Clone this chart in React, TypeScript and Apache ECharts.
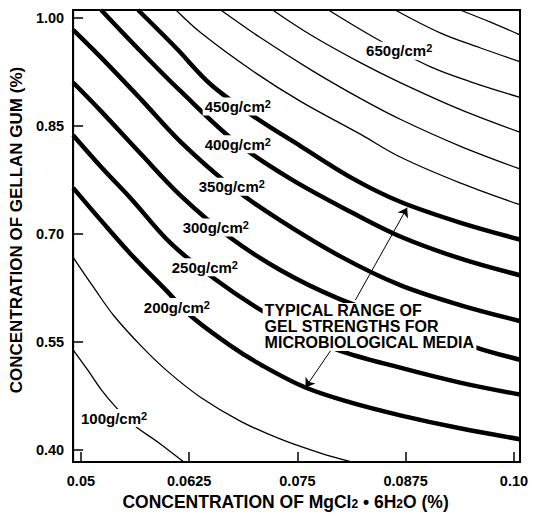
import React, { useEffect, useRef } from "react";
import * as echarts from "echarts";

// Tick values and labels
const X_TICKS = [0.05, 0.0625, 0.075, 0.0875, 0.1];
const X_TICK_LABELS = ["0.05", "0.0625", "0.075", "0.0875", "0.10"];
const Y_TICKS = [0.4, 0.55, 0.7, 0.85, 1.0];
const Y_TICK_LABELS = ["0.40", "0.55", "0.70", "0.85", "1.00"];

// Contour lines: [MgCl2 %, gellan gum %]
const c100 = [[0.0491, 0.5393], [0.05084, 0.5103], [0.05234, 0.4841], [0.05406, 0.4593], [0.05613, 0.4345], [0.0589, 0.411], [0.06189, 0.3834]];
const c150 = [[0.0491, 0.6676], [0.05153, 0.6248], [0.05383, 0.5862], [0.05694, 0.5448], [0.06005, 0.509], [0.06385, 0.4731], [0.06845, 0.44], [0.07306, 0.4152], [0.07766, 0.3959], [0.08134, 0.3834]];
const c200 = [[0.0491, 0.7641], [0.05234, 0.7186], [0.05579, 0.6717], [0.05982, 0.6221], [0.0627, 0.5862], [0.0673, 0.5448], [0.07098, 0.5172], [0.07593, 0.4869], [0.08111, 0.4662], [0.08687, 0.4483], [0.09377, 0.4303], [0.10068, 0.4152]];
const c250 = [[0.0491, 0.8372], [0.05234, 0.7931], [0.05579, 0.749], [0.06039, 0.6869], [0.06534, 0.6386], [0.07041, 0.5972], [0.07536, 0.5641], [0.07962, 0.5393], [0.08687, 0.5145], [0.09377, 0.4938], [0.10068, 0.4772]];
const c300 = [[0.0491, 0.9103], [0.05234, 0.8703], [0.05694, 0.811], [0.06154, 0.7531], [0.06707, 0.6966], [0.07306, 0.6497], [0.07962, 0.611], [0.08687, 0.5793], [0.09573, 0.5421], [0.10068, 0.5255]];
const c350 = [[0.0491, 0.9834], [0.05234, 0.9448], [0.05694, 0.8869], [0.06154, 0.8276], [0.06742, 0.7655], [0.07306, 0.7186], [0.07996, 0.669], [0.08687, 0.629], [0.09377, 0.6014], [0.10068, 0.5793]];
const c400 = [[0.05234, 1.011], [0.05694, 0.9531], [0.06154, 0.8979], [0.06788, 0.8276], [0.07421, 0.7766], [0.08111, 0.731], [0.08687, 0.6966], [0.09377, 0.6662], [0.10068, 0.6428]];
const c450 = [[0.0566, 1.011], [0.06097, 0.9586], [0.065, 0.9076], [0.06995, 0.8634], [0.07536, 0.8221], [0.08146, 0.7766], [0.08687, 0.7448], [0.09377, 0.7159], [0.10068, 0.6924]];
const c500 = [[0.06097, 1.011], [0.06385, 0.9793], [0.0696, 0.9283], [0.07536, 0.8841], [0.08226, 0.8386], [0.08687, 0.8069], [0.09377, 0.771], [0.10068, 0.7407]];
const c550 = [[0.06615, 1.011], [0.07075, 0.9724], [0.07651, 0.9283], [0.08226, 0.8883], [0.08687, 0.8593], [0.09377, 0.8221], [0.10068, 0.7903]];
const c600 = [[0.07213, 1.011], [0.07651, 0.9766], [0.08226, 0.9379], [0.08687, 0.9103], [0.09377, 0.8731], [0.10068, 0.8414]];
const c650 = [[0.07858, 1.011], [0.08433, 0.9697], [0.09032, 0.9324], [0.09492, 0.9117], [0.10068, 0.8897]];
const c700 = [[0.08629, 1.011], [0.09147, 0.9793], [0.09607, 0.9586], [0.10068, 0.9393]];
const c750 = [[0.09377, 1.011], [0.09722, 0.9945], [0.10068, 0.9766]];

const CURVES = [
  { level: 100, pts: c100 }, { level: 150, pts: c150 }, { level: 200, pts: c200 },
  { level: 250, pts: c250 }, { level: 300, pts: c300 }, { level: 350, pts: c350 },
  { level: 400, pts: c400 }, { level: 450, pts: c450 }, { level: 500, pts: c500 },
  { level: 550, pts: c550 }, { level: 600, pts: c600 }, { level: 650, pts: c650 },
  { level: 700, pts: c700 }, { level: 750, pts: c750 },
];
const TYPICAL_MIN = 200;
const TYPICAL_MAX = 450;

// Contour labels: [x, y, level]
const CURVE_LABELS = [
  [0.06811, 0.8772, 450], [0.06811, 0.8248, 400], [0.06742, 0.7655, 350],
  [0.06557, 0.709, 300], [0.06431, 0.6538, 250], [0.06108, 0.5986, 200],
  [0.05383, 0.4445, 100], [0.08675, 0.9545, 650],
];

const NOTE_LINES = ["TYPICAL RANGE OF", "GEL STRENGTHS FOR", "MICROBIOLOGICAL MEDIA"];
const NOTE_ANCHOR = [0.07098, 0.571];
const ARROWS = [
  [[0.08169, 0.6083], [0.08767, 0.7366]],
  [[0.07881, 0.5379], [0.07593, 0.4869]],
];

const FONT = '"Liberation Sans", Arial, Helvetica, sans-serif';
const TXT = { fontFamily: FONT, fontWeight: "bold", color: "#000", textBorderWidth: 0, textShadowBlur: 0, opacity: 1 };

function fmt(ticks: number[], labels: string[]) {
  return (v: number) => {
    const i = ticks.findIndex((t) => Math.abs(t - v) < 1e-9);
    return i >= 0 ? labels[i] : "";
  };
}

export default function App() {
  const ref = useRef<HTMLDivElement>(null);
  useEffect(() => {
    document.body.style.margin = "0";
    const chart = echarts.init(ref.current!, null, { renderer: "svg" });
    const curveSeries = CURVES.map((c) => ({
      type: "line",
      name: `${c.level}`,
      data: c.pts,
      smooth: 0.35,
      showSymbol: false,
      clip: true,
      silent: true,
      z: 2,
      lineStyle: {
        color: "#000",
        width: c.level >= TYPICAL_MIN && c.level <= TYPICAL_MAX ? 4.5 : 1.3,
      },
    }));
    const noteLine = { ...TXT, fontSize: 16, lineHeight: 16, backgroundColor: "#fff", padding: [0, 2, 0, 2] };
    chart.setOption({
      animation: false,
      backgroundColor: "#fff",
      grid: {
        left: 72, right: 14, top: 10, bottom: 51,
        show: true, borderColor: "#000", borderWidth: 2,
      },
      xAxis: {
        type: "value", min: 0.0491, max: 0.1007,
        splitLine: { show: false },
        axisLine: { lineStyle: { color: "#000", width: 2 } },
        axisTick: { inside: true, length: 10, customValues: X_TICKS, lineStyle: { color: "#000", width: 1.5 } },
        axisLabel: {
          customValues: X_TICKS, formatter: fmt(X_TICKS, X_TICK_LABELS),
          ...TXT, fontSize: 14.5, margin: 11,
        },
        name: "{a|CONCENTRATION OF MgCl}{s|2}{a| • 6H}{s|2}{a|O (%)}",
        nameLocation: "middle", nameGap: 26,
        nameTextStyle: {
          padding: [0, 22, 0, 0],
          rich: {
            a: { ...TXT, fontSize: 17.5, lineHeight: 16 },
            s: { ...TXT, fontSize: 12, lineHeight: 6, verticalAlign: "bottom" },
          },
        },
      },
      yAxis: {
        type: "value", min: 0.3834, max: 1.011,
        splitLine: { show: false },
        axisLine: { lineStyle: { color: "#000", width: 2 } },
        axisTick: { inside: true, length: 10, customValues: Y_TICKS, lineStyle: { color: "#000", width: 1.5 } },
        axisLabel: {
          customValues: Y_TICKS, formatter: fmt(Y_TICKS, Y_TICK_LABELS),
          ...TXT, fontSize: 14.5, margin: 9,
        },
        name: "CONCENTRATION OF GELLAN GUM (%)",
        nameLocation: "middle", nameGap: 45,
        nameTextStyle: { ...TXT, fontSize: 17, padding: [0, 0, 0, 12] },
      },
      series: [
        ...curveSeries,
        {
          type: "scatter",
          data: CURVE_LABELS,
          symbolSize: 0,
          silent: true,
          z: 5,
          itemStyle: { opacity: 1 },
          label: {
            show: true, position: "inside", ...TXT,
            formatter: (p: any) => `{a|${p.value[2]}g/cm}{s|2}`,
            backgroundColor: "#fff", padding: [1, 2, 1, 2],
            rich: {
              a: { ...TXT, fontSize: 15, lineHeight: 16 },
              s: { ...TXT, fontSize: 11, lineHeight: 8, verticalAlign: "top" },
            },
          },
        },
        {
          type: "scatter",
          data: [NOTE_ANCHOR],
          symbolSize: 0,
          silent: true,
          z: 5,
          itemStyle: { opacity: 1 },
          label: {
            show: true, position: "right", distance: 0, ...TXT,
            formatter: `{l1|${NOTE_LINES[0]}}\n{l2|${NOTE_LINES[1]}}\n{l3|${NOTE_LINES[2]}}`,
            rich: {
              l1: noteLine,
              l2: { ...noteLine, width: 212 },
              l3: noteLine,
            },
          },
        },
        {
          type: "lines",
          coordinateSystem: "cartesian2d",
          silent: true,
          z: 6,
          symbol: ["none", "arrow"],
          symbolSize: [5, 9],
          lineStyle: { color: "#000", width: 1, opacity: 1 },
          data: ARROWS.map((c) => ({ coords: c })),
        },
      ],
    });
    return () => chart.dispose();
  }, []);
  return <div ref={ref} style={{ width: 534, height: 516 }} />;
}
